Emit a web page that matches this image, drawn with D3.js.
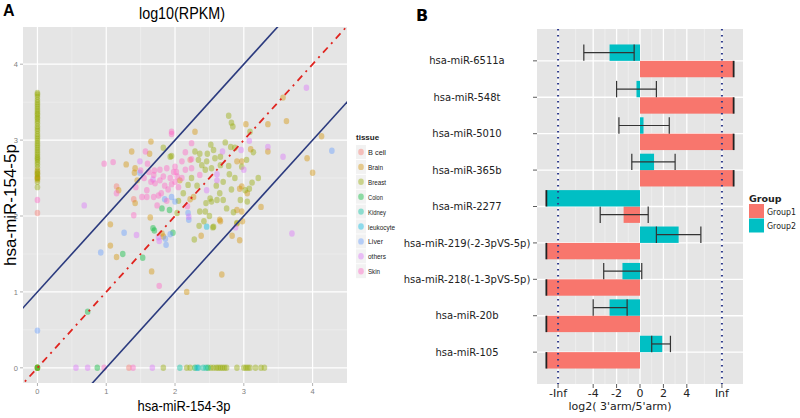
<!DOCTYPE html>
<html><head><meta charset="utf-8">
<script src="https://cdn.jsdelivr.net/npm/d3@7"></script>
<style>body{margin:0;background:#fff}svg{display:block}</style>
</head><body><svg id="c" width="800" height="418"></svg>
<script>
// ---------- Panel A data (log10 RPKM: x = 3p, y = 5p) ----------
const tissues = ["B cell","Brain","Breast","Colon","Kidney","leukocyte","Liver","others","Skin"];
const tissueColors = ["#F8766D","#D39200","#93AA00","#00BA38","#00C19F","#00B9E3","#619CFF","#DB72FB","#FF61C3"];
const bcellPts = [[0,2.04],[1.15,2.39],[1.40,2.22],[2.22,2.74],[1.33,0]];
const brainPts = [[0,2.6],[0,2.56],[0,2.52],[0,2.48],[0,2.5],[0,0],[1.65,2.98],[1.37,2.85],[1.63,2.82],[1.29,2.68],[1.42,2.63],[1.41,2.57],[1.45,2.47],[1.18,2.34],[1.42,2.17],[1.64,1.98],[1.06,1.89],[1.06,1.61],[1.15,1.46],[1.83,1.73],[1.81,1.77],[1.66,1.27],[2.17,1.0],[2.66,1.93],[2.38,1.74],[2.83,1.74],[2.94,1.68],[2.98,1.93],[2.68,1.23],[3.03,3.21],[3.35,3.21],[3.62,3.25],[2.29,3.11],[3.1,2.88],[3.35,2.85],[2.90,2.72],[2.97,2.72],[2.07,2.47],[2.27,2.25],[2.22,2.22],[2.94,2.36],[2.97,2.39],[3.05,2.30],[2.90,2.08],[2.97,2.06],[3.25,2.12],[2.65,1.95],[3.57,3.56],[4.13,3.05],[3.92,2.76],[4.0,2.57],[2.9,1.90]];
const breastPts = [[0,3.62],[0,3.6],[0,3.57],[0,3.53],[0,3.5],[0,3.47],[0,3.44],[0,3.41],[0,3.38],[0,3.35],[0,3.33],[0,3.3],[0,3.28],[0,3.25],[0,3.22],[0,3.18],[0,3.15],[0,3.12],[0,3.08],[0,3.05],[0,3.02],[0,2.99],[0,2.96],[0,2.93],[0,2.9],[0,2.87],[0,2.84],[0,2.81],[0,2.78],[0,2.76],[0,2.74],[0,2.71],[0,2.68],[0,2.64],[0,2.58],[0,2.55],[0,2.5],[0,2.45],[0,2.38],[0,0],[0,0],
 [1.83,0],[2.17,0],[2.22,0],[2.52,0],[2.56,0],[2.6,0],[2.63,0],[2.66,0],[2.69,0],[2.72,0],[2.75,0],[2.9,0],[3.0,0],[3.03,0],[3.06,0],[3.09,0],[3.17,0],[3.25,0],[3.3,0],
 [1.83,2.90],[1.95,2.79],[2.03,2.04],[2.28,1.69],[2.35,1.87],[2.42,1.93],[2.55,1.85],[2.9,1.91],[2.78,3.32],[2.82,3.23],[2.84,3.18],[3.09,3.11],[2.52,2.94],[2.73,2.97],[2.81,2.91],[2.87,2.90],[3.14,2.84],[2.29,2.85],[2.36,2.82],[2.47,2.82],[2.56,2.87],[2.34,2.74],[2.46,2.72],[2.58,2.76],[2.66,2.78],[3.04,2.74],[1.93,2.78],[2.39,2.67],[2.44,2.61],[2.53,2.63],[2.66,2.67],[2.78,2.66],[2.97,2.65],[2.79,2.55],[2.87,2.50],[3.21,2.50],[3.12,2.44],[2.24,2.50],[2.19,2.41],[2.32,2.40],[2.82,2.35],[3.02,2.34],[3.08,2.36],[2.95,2.21],[3.05,2.19],[2.51,2.23],[2.61,2.21],[2.70,2.21],[2.53,2.19],[2.45,2.17],[2.36,2.06],[2.44,2.06],[2.56,1.86],[2.12,2.3],[2.05,2.2],[2.6,2.4],[2.7,2.45],[2.75,2.1],[2.85,2.05],[2.5,2.0],[2.65,2.3]];
const colonPts = [[0,0],[0.87,0],[2.29,0],[2.48,0],[0.73,0.74],[1.24,1.50],[1.53,1.45],[1.70,1.81],[1.97,1.78],[1.81,2.10],[1.92,2.08],[1.68,1.84]];
const kidneyPts = [[2.07,0],[2.34,0],[2.41,0],[2.45,0]];
const leukocytePts = [[2.46,1.86],[2.32,0]];
const liverPts = [[0,0.49],[1.49,2.57],[1.85,2.22],[1.95,2.25],[1.26,1.78],[0.92,1.52],[1.87,1.62],[1.93,1.76],[1.86,1.70],[2.2,1.95],[4.28,2.86],[2.19,2.04],[2.0,2.19]];
const othersPts = [[0.56,0],[0.73,0],[1.67,0],[1.49,2.72],[1.68,2.48],[0.68,2.14],[1.44,1.75],[1.76,1.72],[1.77,1.67],[2.2,1.99],[2.88,1.85],[3.70,1.77],[3.08,2.99],[2.96,2.87],[3.35,2.91],[3.57,2.78],[2.69,2.85],[3.0,2.61],[2.61,2.55],[2.61,2.47],[2.46,2.34],[3.91,3.69]];
const skinPts = [[0,2.21],[1.95,3.11],[1.95,3.08],[1.57,2.85],[0.97,2.69],[1.10,2.71],[1.60,2.69],[1.62,2.58],[1.69,2.54],[1.78,2.61],[1.88,2.63],[1.98,2.58],[1.83,2.52],[1.93,2.50],[2.03,2.52],[1.71,2.43],[1.78,2.47],[1.15,2.30],[1.43,2.38],[1.59,2.34],[1.52,2.25],[1.59,2.25],[1.69,2.25],[1.76,2.27],[1.74,2.14],[1.40,2.01],[1.77,1.08],[2.24,2.96],[2.15,2.84],[2.24,2.75],[2.10,2.72],[2.0,2.65],[2.02,2.58],[2.15,2.61],[2.24,2.63],[2.36,2.54],[2.18,2.13],[1.39,0],[0.97,0],[1.85,2.4],[1.9,2.35],[1.95,2.42],[2.0,2.45],[1.7,2.6],[1.8,2.3],[1.65,2.45],[1.55,2.5],[2.05,2.38],[1.88,2.2],[1.5,2.6],[2.1,2.5]];
const tissuePts = [bcellPts,brainPts,breastPts,colonPts,kidneyPts,leukocytePts,liverPts,othersPts,skinPts];
const aTicks = [0,1,2,3,4];
const refLines = [{off:1,color:"#2B3A7E",dash:null},{off:-1,color:"#2B3A7E",dash:null},{off:0,color:"#E0241F",dash:"7,5,2,5"}];

// ---------- Panel B data (log2 3'arm/5'arm) ----------
const mirnas = ["hsa-miR-6511a","hsa-miR-548t","hsa-miR-5010","hsa-miR-365b","hsa-miR-2277","hsa-miR-219(-2-3pVS-5p)","hsa-miR-218(-1-3pVS-5p)","hsa-miR-20b","hsa-miR-105"];
const group1 = [Infinity,Infinity,Infinity,Infinity,-1.4,-Infinity,-Infinity,-Infinity,-Infinity];
const group2 = [-2.6,-0.3,0.3,1.2,-Infinity,3.3,-1.5,-2.6,1.9];
const group1Lo = [null,null,null,null,-3.4,null,null,null,null];
const group1Hi = [null,null,null,null,0.7,null,null,null,null];
const group2Lo = [-4.8,-2.0,-1.8,-0.7,null,1.4,-3.1,-4.0,1.0];
const group2Hi = [-0.5,1.4,2.5,3.0,null,5.2,0.15,-1.1,2.6];
const bTickVals = [-7,-4,-2,0,2,4,7];
const bTickLabels = ["-Inf","-4","-2","0","2","4","Inf"];
const groups = ["Group1","Group2"];
const groupColors = ["#F8766D","#00BFC4"];

const svg = d3.select("#c");
const BG = "#E5E5E5";
const fA = "Liberation Sans, Arial, sans-serif";

// ================= Panel A =================
const A = {l:23, r:347, t:27, b:383};
const xA = d3.scaleLinear().domain([-0.21,4.5]).range([A.l,A.r]);
const yA = d3.scaleLinear().domain([-0.2,4.49]).range([A.b,A.t]);
svg.append("rect").attr("x",A.l).attr("y",A.t).attr("width",A.r-A.l).attr("height",A.b-A.t).attr("fill",BG);
svg.append("clipPath").attr("id","clipA").append("rect").attr("x",A.l).attr("y",A.t).attr("width",A.r-A.l).attr("height",A.b-A.t);
const gA = svg.append("g").attr("clip-path","url(#clipA)");
const minorA = [0.5,1.5,2.5,3.5];
minorA.forEach(v=>{
  gA.append("line").attr("x1",xA(v)).attr("x2",xA(v)).attr("y1",A.t).attr("y2",A.b).attr("stroke","#F2F2F2").attr("stroke-width",0.6);
  gA.append("line").attr("y1",yA(v)).attr("y2",yA(v)).attr("x1",A.l).attr("x2",A.r).attr("stroke","#F2F2F2").attr("stroke-width",0.6);
});
aTicks.forEach(v=>{
  gA.append("line").attr("x1",xA(v)).attr("x2",xA(v)).attr("y1",A.t).attr("y2",A.b).attr("stroke","#fff").attr("stroke-width",1.2);
  gA.append("line").attr("y1",yA(v)).attr("y2",yA(v)).attr("x1",A.l).attr("x2",A.r).attr("stroke","#fff").attr("stroke-width",1.2);
});
tissuePts.forEach((pts,i)=>{
  gA.selectAll(null).data(pts).enter().append("ellipse")
    .attr("cx",d=>xA(d[0])).attr("cy",d=>yA(d[1])).attr("rx",2.8).attr("ry",3.2)
    .attr("fill",tissueColors[i]).attr("fill-opacity",0.42);
});
refLines.forEach(L=>{
  const x0=-0.3, x1=4.6;
  gA.append("line").attr("x1",xA(x0)).attr("y1",yA(x0+L.off)).attr("x2",xA(x1)).attr("y2",yA(x1+L.off))
    .attr("stroke",L.color).attr("stroke-width",L.dash?1.8:1.6).attr("stroke-dasharray",L.dash);
});
aTicks.forEach(v=>{
  svg.append("line").attr("x1",xA(v)).attr("x2",xA(v)).attr("y1",A.b).attr("y2",A.b+3).attr("stroke","#7F7F7F").attr("stroke-width",0.6);
  svg.append("text").attr("x",xA(v)).attr("y",A.b+11).attr("text-anchor","middle").attr("font-family",fA).attr("font-size",7.5).attr("fill","#7F7F7F").text(v);
  svg.append("line").attr("x1",A.l-3).attr("x2",A.l).attr("y1",yA(v)).attr("y2",yA(v)).attr("stroke","#7F7F7F").attr("stroke-width",0.6);
  svg.append("text").attr("x",A.l-5).attr("y",yA(v)+3).attr("text-anchor","end").attr("font-family",fA).attr("font-size",7.5).attr("fill","#7F7F7F").text(v);
});
svg.append("text").attr("x",182).attr("y",19).attr("text-anchor","middle").attr("font-family",fA).attr("font-size",16)
  .attr("textLength",86).attr("lengthAdjust","spacingAndGlyphs").attr("fill","#000").text("log10(RPKM)");
svg.append("text").attr("x",184).attr("y",411).attr("text-anchor","middle").attr("font-family",fA).attr("font-size",15)
  .attr("textLength",93).attr("lengthAdjust","spacingAndGlyphs").attr("fill","#000").text("hsa-miR-154-3p");
svg.append("text").attr("transform","translate(16,205) rotate(-90)").attr("text-anchor","middle").attr("font-family",fA).attr("font-size",17)
  .attr("fill","#000").text("hsa-miR-154-5p");
svg.append("text").attr("x",3).attr("y",16).attr("font-family",fA).attr("font-weight","bold").attr("font-size",16).text("A");
svg.append("text").attr("x",356).attr("y",140).attr("font-family",fA).attr("font-weight","bold").attr("font-size",8).attr("fill","#222").text("tissue");
tissues.forEach((t,i)=>{
  const cy = 152 + i*14.9;
  svg.append("rect").attr("x",356).attr("y",cy-7).attr("width",10).attr("height",14).attr("fill","#F2F2F2");
  svg.append("ellipse").attr("cx",361).attr("cy",cy).attr("rx",2.8).attr("ry",3.2).attr("fill",tissueColors[i]).attr("fill-opacity",0.42);
  svg.append("text").attr("x",368).attr("y",cy+3).attr("font-family",fA).attr("font-size",8).attr("fill","#222")
    .attr("textLength",t.length*3.0).attr("lengthAdjust","spacingAndGlyphs").text(t);
});

// ================= Panel B =================
const B = {l:537, r:743, t:29, b:384};
const xB = d3.scaleLinear().domain([-8.8,8.8]).range([B.l,B.r]);
const yB = d3.scalePoint().domain(mirnas).range([B.t,B.b]).padding(0.875);
const step = yB.step();
const bh = step*0.45;
const clampInf = v => v===Infinity?8:(v===-Infinity?-8:v);
svg.append("rect").attr("x",B.l).attr("y",B.t).attr("width",B.r-B.l).attr("height",B.b-B.t).attr("fill",BG);
[-5.5,-3,-1,1,3,5.5].forEach(v=>{
  svg.append("line").attr("x1",xB(v)).attr("x2",xB(v)).attr("y1",B.t).attr("y2",B.b).attr("stroke","#F2F2F2").attr("stroke-width",0.7);
});
bTickVals.forEach(v=>{
  svg.append("line").attr("x1",xB(v)).attr("x2",xB(v)).attr("y1",B.t).attr("y2",B.b).attr("stroke","#fff").attr("stroke-width",1.3);
});
mirnas.forEach(m=>{
  svg.append("line").attr("x1",B.l).attr("x2",B.r).attr("y1",yB(m)).attr("y2",yB(m)).attr("stroke","#fff").attr("stroke-width",1.3);
});
const gB = svg.append("g");
function drawGroup(vals, lo, hi, gi){
  mirnas.forEach((m,i)=>{
    const v = clampInf(vals[i]);
    const y0 = gi===1 ? yB(m)-bh : yB(m);
    gB.append("rect").attr("x",Math.min(xB(0),xB(v))).attr("y",y0).attr("width",Math.abs(xB(v)-xB(0))).attr("height",bh).attr("fill",groupColors[gi]);
    if(!isFinite(vals[i])){
      gB.append("line").attr("x1",xB(v)).attr("x2",xB(v)).attr("y1",y0).attr("y2",y0+bh).attr("stroke","#222").attr("stroke-width",1.8);
    }
    if(lo[i]!==null){
      const yc = y0+bh/2;
      gB.append("line").attr("x1",xB(lo[i])).attr("x2",xB(hi[i])).attr("y1",yc).attr("y2",yc).attr("stroke","#333").attr("stroke-width",1.2);
      [lo[i],hi[i]].forEach(e=>gB.append("line").attr("x1",xB(e)).attr("x2",xB(e)).attr("y1",y0).attr("y2",y0+bh).attr("stroke","#333").attr("stroke-width",1.2));
    }
  });
}
drawGroup(group1, group1Lo, group1Hi, 0);
drawGroup(group2, group2Lo, group2Hi, 1);
[-7,7].forEach(v=>{
  svg.append("line").attr("x1",xB(v)).attr("x2",xB(v)).attr("y1",B.t).attr("y2",B.b).attr("stroke","#2E3A8C").attr("stroke-width",2).attr("stroke-dasharray","1.6,4.4");
});
const fB = "DejaVu Sans, Verdana, sans-serif";
bTickVals.forEach((v,i)=>{
  svg.append("line").attr("x1",xB(v)).attr("x2",xB(v)).attr("y1",B.b).attr("y2",B.b+4).attr("stroke","#333").attr("stroke-width",0.8);
  svg.append("text").attr("x",xB(v)).attr("y",B.b+13).attr("text-anchor","middle").attr("font-family",fB).attr("font-size",11).attr("fill","#222").text(bTickLabels[i]);
});
mirnas.forEach(m=>{
  svg.append("line").attr("x1",B.l-4).attr("x2",B.l).attr("y1",yB(m)).attr("y2",yB(m)).attr("stroke","#333").attr("stroke-width",0.8);
  svg.append("text").attr("x",467).attr("y",yB(m)+3.6).attr("text-anchor","middle").attr("font-family",fB).attr("font-size",10).attr("fill","#222").text(m);
});
svg.append("text").attr("x",620).attr("y",410).attr("text-anchor","middle").attr("font-family",fB).attr("font-size",11).attr("fill","#222").text("log2( 3'arm/5'arm)");
svg.append("text").attr("x",416).attr("y",21).attr("font-family",fB).attr("font-weight","bold").attr("font-size",16).text("B");
svg.append("text").attr("x",749).attr("y",202).attr("font-family",fB).attr("font-weight","bold").attr("font-size",9.5).attr("fill","#222").text("Group");
groups.forEach((g,i)=>{
  const y0 = 204 + i*14.5;
  svg.append("rect").attr("x",749).attr("y",y0).attr("width",15).attr("height",14).attr("fill",groupColors[i]);
  svg.append("text").attr("x",767).attr("y",y0+10.5).attr("font-family",fB).attr("font-size",9).attr("fill","#222")
    .attr("textLength",29).attr("lengthAdjust","spacingAndGlyphs").text(g);
});
</script></body></html>
